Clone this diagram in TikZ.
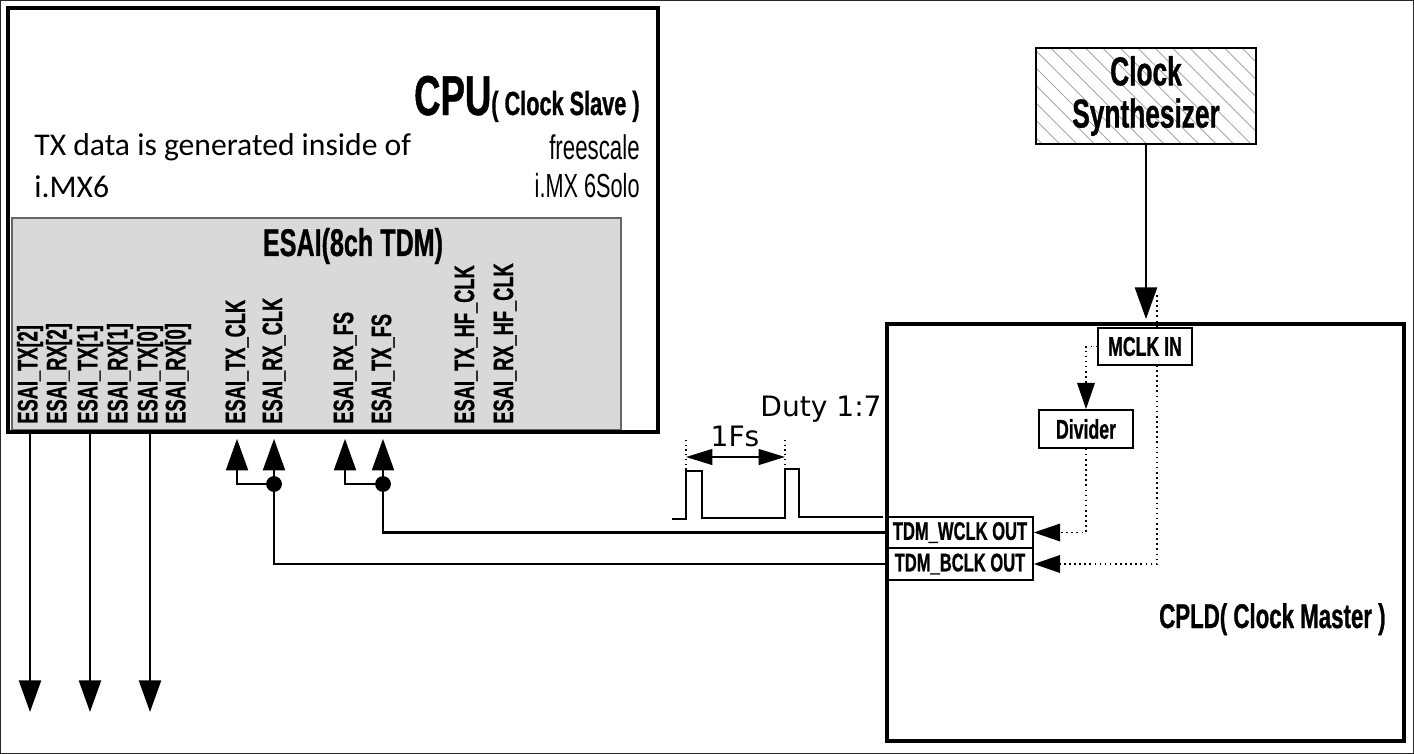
\documentclass[tikz,border=0pt]{standalone}
\usepackage{fontspec}
\setmainfont{Carlito}
\newfontfamily\cond[FakeStretch=0.65, BoldFeatures={FakeBold=0.8}]{Liberation Sans}
\newfontfamily\gothic{DejaVu Sans}
\usepackage{tikz}
\usetikzlibrary{arrows.meta, positioning, patterns.meta}
\newcommand{\cb}[1]{\fontsize{#1}{#1}\cond\bfseries}
\tikzstyle{arrow} = [line width=1.4pt, -{Triangle[length=18pt,width=12.5pt]}]
\tikzstyle{dotarrow} = [line width=0.9pt, dotted, -{Triangle[length=15pt,width=10pt]}]
\tikzstyle{wire} = [line width=1.4pt]
\tikzstyle{chip} = [draw, line width=2.8pt, inner sep=0pt]
\tikzstyle{port} = [draw, line width=0.9pt, inner sep=0pt, font=\cb{14.5}]
\tikzstyle{dot} = [circle, fill, inner sep=0pt, minimum size=9pt]

\begin{document}
\begin{tikzpicture}[x=0.02cm, y=-0.02cm]
    \useasboundingbox (0,0) rectangle (1414,754);
    \draw[line width=0.6pt, black!85] (0.6,0.6) rectangle (1413.4,753.4);

    % CPU side
    \node[draw=black!60, line width=0.6pt, fill=black!15, minimum width=609*0.02cm, minimum height=212*0.02cm] (esai) at (316.5,324) {};
    \node[chip, minimum width=650*0.02cm, minimum height=424*0.02cm] (cpu) at (333,220) {};
    \node[anchor=base east, inner sep=0pt] (cputitle) at (640,115) {\cb{32}CPU\cb{19}( Clock Slave )};
    \node[anchor=base west, inner sep=0pt, font=\fontsize{18}{22}\selectfont] (note1) at (34,155) {TX data is generated inside of};
    \node[anchor=base west, inner sep=0pt, font=\fontsize{18}{22}\selectfont] (note2) at (34,197) {i.MX6};
    \node[anchor=base east, inner sep=0pt, font=\fontsize{19.5}{20}\cond] (maker) at (640,159) {freescale};
    \node[anchor=base east, inner sep=0pt, font=\fontsize{19}{20}\cond] (part) at (640,197) {i.MX 6Solo};
    \node[font=\cb{22}] (esaititle) at (353,246) {ESAI(8ch TDM)};

    \foreach \x/\n/\t in {30/tx2/{ESAI\_TX[2]}, 59/rx2/{ESAI\_RX[2]}, 90/tx1/{ESAI\_TX[1]},
        120/rx1/{ESAI\_RX[1]}, 150/tx0/{ESAI\_TX[0]}, 178/rx0/{ESAI\_RX[0]},
        237/txclk/{ESAI\_TX\_CLK}, 274/rxclk/{ESAI\_RX\_CLK}, 345/rxfs/{ESAI\_RX\_FS},
        383/txfs/{ESAI\_TX\_FS}, 466/txhf/{ESAI\_TX\_HF\_CLK}, 505/rxhf/{ESAI\_RX\_HF\_CLK}}
      \node[rotate=90, anchor=west, inner sep=0pt, font=\cb{16}] (\n) at (\x,424) {\t};

    % data out
    \coordinate (sink) at (0,712);
    \foreach \n in {tx2,tx1,tx0}
      \draw[arrow] (\n.west |- cpu.south) -- (\n.west |- sink);

    % clocks in
    \coordinate (jrow) at (0,484);
    \node[dot] (jclk) at (rxclk.west |- jrow) {};
    \node[dot] (jfs) at (txfs.west |- jrow) {};
    \draw[arrow, shorten >=2.5pt] (jclk.center) -- (rxclk.west |- cpu.south);
    \draw[arrow, shorten >=2.5pt] (jclk.center) -| (txclk.west |- cpu.south);
    \draw[arrow, shorten >=2.5pt] (jfs.center) -- (txfs.west |- cpu.south);
    \draw[arrow, shorten >=2.5pt] (jfs.center) -| (rxfs.west |- cpu.south);

    % CPLD side
    \node[port, minimum width=146*0.02cm, minimum height=31*0.02cm] (wclk) at (960,532.5) {TDM\_WCLK OUT};
    \node[port, minimum width=146*0.02cm, minimum height=32*0.02cm] (bclk) at (960,564) {TDM\_BCLK OUT};
    \node[chip, minimum width=517*0.02cm, minimum height=417*0.02cm] (cpld) at (1145.5,532.5) {};
    \node[port, fill=white, font=\cb{15.5}, minimum width=94*0.02cm, minimum height=37*0.02cm] (mclk) at (1145,346.5) {MCLK IN};
    \node[port, font=\cb{15.5}, minimum width=94*0.02cm, minimum height=38*0.02cm] (divider) at (1086,429) {Divider};
    \node[anchor=base east, inner sep=0pt, font=\cb{19.5}] (cpldtitle) at (1386,628) {CPLD( Clock Master )};
    \node[chip, line width=1.4pt, pattern={Lines[angle=-45, distance=7pt, line width=0.5pt]}, pattern color=black!35,
          minimum width=220*0.02cm, minimum height=96*0.02cm, align=center, font=\cb{23}] (synth) at (1146,96) {Clock\\[1pt]Synthesizer};

    \draw[wire] (jfs.center) |- (wclk.west);
    \draw[wire] (jclk.center) |- (bclk.west);
    \draw[arrow, shorten >=1.4pt] (synth.south) -- (synth.south |- cpld.north);

    \coordinate (mtap) at (1157,365);
    \draw[line width=0.9pt, dotted] (mtap |- mclk.north) -- ++(0,-32);
    \draw[dotarrow] (mclk.west) -| (divider.north);
    \draw[dotarrow] (divider.south) |- (wclk.east);
    \draw[dotarrow] (mtap) |- (bclk.east);

    % frame sync waveform
    \draw[line width=1pt] (672,519) -- (686,519) -- (686,471) -- (702,471) -- (702,518) -- (785,518)
      -- (785,469) -- (799,469) -- (799,517) -- (883,517);
    \draw[dotted, line width=0.7pt] (686,440) -- (686,470);
    \draw[dotted, line width=0.7pt] (785,440) -- (785,468);
    \coordinate (fsa) at (686,457);
    \coordinate (fsb) at (785,457);
    \draw[line width=1pt, {Triangle[length=15pt,width=9pt]}-{Triangle[length=15pt,width=9pt]}] (fsa) -- (fsb);
    \node[anchor=base, inner sep=0pt, font=\fontsize{16}{18}\gothic] (fs) at (735,446) {1Fs};
    \node[anchor=base west, inner sep=0pt, font=\fontsize{16}{18}\gothic] (duty) at (760,416) {Duty 1:7};
\end{tikzpicture}
\end{document}
